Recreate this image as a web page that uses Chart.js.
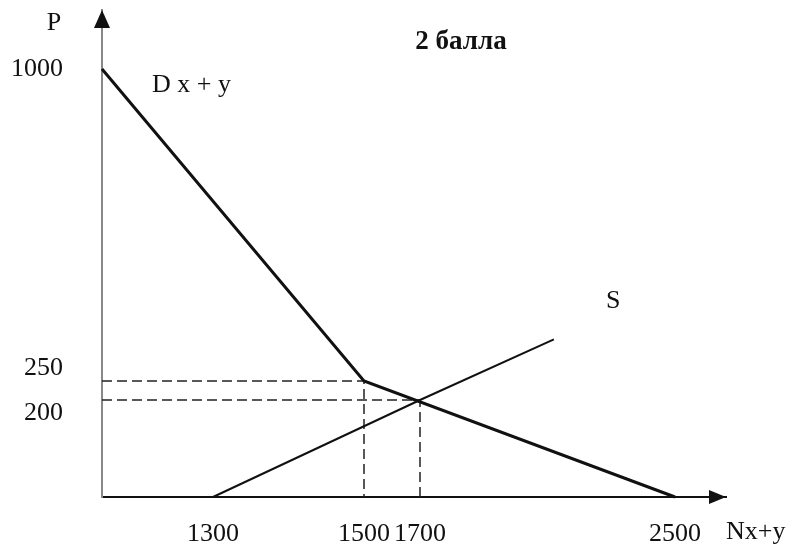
<!DOCTYPE html>
<html>
<head>
<meta charset="utf-8">
<script src="https://cdn.jsdelivr.net/npm/chart.js@4.4.1/dist/chart.umd.min.js"></script>
<style>
  html, body { margin: 0; padding: 0; background: #fff; }
  canvas { display: block; }
</style>
</head>
<body>
<canvas id="market" width="792" height="544"></canvas>
<script>
// demand for x + y (kinked) and supply, quantity / price
const demandQ = [0, 1500, 2500];
const demandP = [1000, 250, 0];
const supplyQ = [1300, 1700, 2120];
const supplyP = [0, 200, 350];

// dashed guides down to the axes
const guideQ = [1500, 1700];
const guideP = [250, 200];

// tick labels
const qTicks = [1300, 1500, 1700, 2500];
const pTicks = [200, 250, 1000];

const serif = '"Liberation Serif", "Times New Roman", serif';

// the drawing is a sketch, its axes are not uniform,
// so each axis maps values through a few knots (value -> share of axis length)
const axisKnots = {
  x: { vals: [0, 1300, 1500, 1700, 2500, 2800], fr: [0, 111 / 624, 262 / 624, 318 / 624, 573 / 624, 1] },
  y: { vals: [0, 200, 250, 1000, 1150], fr: [0, 97 / 487, 116 / 487, 428 / 487, 1] },
};

const toFrac = (k, v) => {
  for (let i = 1; i < k.vals.length; i++) {
    if (v <= k.vals[i] || i === k.vals.length - 1) {
      const t = (v - k.vals[i - 1]) / (k.vals[i] - k.vals[i - 1]);
      return k.fr[i - 1] + t * (k.fr[i] - k.fr[i - 1]);
    }
  }
  return 0;
};
const fromFrac = (k, f) => {
  for (let i = 1; i < k.fr.length; i++) {
    if (f <= k.fr[i] || i === k.fr.length - 1) {
      const t = (f - k.fr[i - 1]) / (k.fr[i] - k.fr[i - 1]);
      return k.vals[i - 1] + t * (k.vals[i] - k.vals[i - 1]);
    }
  }
  return 0;
};

class KnotScale extends Chart.LinearScale {
  getPixelForValue(value) {
    if (value === null || value === undefined || isNaN(value)) return NaN;
    return this.getPixelForDecimal(toFrac(axisKnots[this.id], value));
  }
  getValueForPixel(pixel) {
    return fromFrac(axisKnots[this.id], this.getDecimalForPixel(pixel));
  }
}
KnotScale.id = 'knot';
KnotScale.defaults = Chart.LinearScale.defaults;
Chart.register(KnotScale);

const pts = (qs, ps) => qs.map((q, i) => ({ x: q, y: ps[i] }));

const guides = guideQ.map((q, i) => ({
  data: [{ x: 0, y: guideP[i] }, { x: q, y: guideP[i] }, { x: q, y: 0 }],
  borderColor: '#222',
  borderWidth: 1.5,
  borderDash: [10, 5],
}));

// keep the plot box fixed, labels may hang outside it
const fixBox = (s, size) => {
  if (s.isHorizontal()) s.height = size; else s.width = size;
  s.paddingTop = s.paddingBottom = s.paddingLeft = s.paddingRight = 0;
};

//arrows and free text of the sketch
const sketchPlugin = {
  id: 'sketch',
  afterDraw(chart) {
    const { ctx, chartArea: a, scales: { x, y } } = chart;
    ctx.save();
    ctx.fillStyle = '#111';
    // arrow heads
    ctx.beginPath();
    ctx.moveTo(a.left, a.top);
    ctx.lineTo(a.left - 8, a.top + 18);
    ctx.lineTo(a.left + 8, a.top + 18);
    ctx.closePath();
    ctx.fill();
    ctx.beginPath();
    ctx.moveTo(a.right, a.bottom);
    ctx.lineTo(a.right - 17, a.bottom - 7);
    ctx.lineTo(a.right - 17, a.bottom + 7);
    ctx.closePath();
    ctx.fill();

    ctx.textBaseline = 'middle';
    ctx.font = '26px ' + serif;
    ctx.textAlign = 'center';
    ctx.fillText('P', a.left - 48, a.top + 13);

    ctx.textAlign = 'left';
    ctx.fillText('D x + y', x.getPixelForValue(demandQ[0]) + 50, y.getPixelForValue(demandP[0]) + 16);
    const last = supplyQ.length - 1;
    ctx.fillText('S', x.getPixelForValue(supplyQ[last]) + 52, y.getPixelForValue(supplyP[last]) - 38);
    ctx.fillText('Nx+y', a.right, a.bottom + 35);

    ctx.font = 'bold 27px ' + serif;
    ctx.textAlign = 'center';
    ctx.fillText('2 балла', 461, 42);
    ctx.restore();
  },
};

new Chart(document.getElementById('market'), {
  type: 'line',
  plugins: [sketchPlugin],
  data: {
    datasets: [
      { data: pts(demandQ, demandP), borderColor: '#111', borderWidth: 3 },
      { data: pts(supplyQ, supplyP), borderColor: '#111', borderWidth: 2 },
      ...guides,
    ],
  },
  options: {
    responsive: false,
    animation: false,
    events: [],
    layout: { padding: { top: 10, right: 66, bottom: 0, left: 10 } },
    elements: {
      point: { radius: 0 },
      line: { tension: 0, fill: false, borderCapStyle: 'butt' },
    },
    datasets: { line: { clip: false } },
    plugins: { legend: { display: false }, tooltip: { enabled: false } },
    scales: {
      x: {
        type: 'knot',
        min: 0,
        max: 2800,
        grid: { display: false, drawTicks: false },
        border: { color: '#111', width: 2 },
        afterBuildTicks: (s) => { s.ticks = qTicks.map((v) => ({ value: v })); },
        afterFit: (s) => fixBox(s, 47),
        ticks: {
          color: '#111',
          padding: 22,
          maxRotation: 0,
          autoSkip: false,
          font: { family: serif, size: 26 },
          callback: (v) => String(v),
        },
      },
      y: {
        type: 'knot',
        min: 0,
        max: 1150,
        grid: { display: false, drawTicks: false },
        border: { color: '#888', width: 2 },
        afterBuildTicks: (s) => { s.ticks = pTicks.map((v) => ({ value: v })); },
        afterFit: (s) => fixBox(s, 92),
        ticks: {
          color: '#111',
          padding: 39,
          autoSkip: false,
          font: { family: serif, size: 26, lineHeight: 1.0 },
          // 250 and 200 sit close, nudge them apart like in the drawing
          callback: (v) => (v === 250 ? ['250', ''] : v === 200 ? ['', '200'] : String(v)),
        },
      },
    },
  },
});
</script>
</body>
</html>
